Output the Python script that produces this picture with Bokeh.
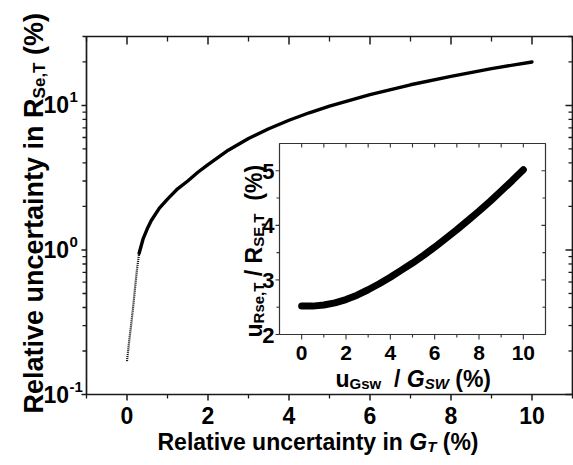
import math
from bokeh.plotting import figure
from bokeh.models import Range1d, LinearScale, Label, LabelSet, ColumnDataSource
from bokeh.embed import file_html
from bokeh.resources import INLINE
from bokeh.core.properties import value

# ---------------- data ----------------
main_x = [0.0, 0.05, 0.1, 0.15, 0.2, 0.25, 0.3, 0.4, 0.5, 0.6, 0.8, 1.0, 1.25, 1.5,
          1.75, 2.0, 2.5, 3.0, 3.5, 4.0, 4.5, 5.0, 6.0, 7.0, 8.0, 9.0, 10.0]
main_y = [0.17, 0.23, 0.30, 0.40, 0.55, 0.75, 0.95, 1.2, 1.4, 1.6, 1.95, 2.25, 2.65, 3.0,
          3.45, 3.9, 4.9, 5.9, 6.9, 7.9, 8.9, 9.9, 11.9, 13.9, 15.9, 18.0, 20.0]
inset_x = [0, 0.5, 1, 1.5, 2, 2.5, 3, 3.5, 4, 4.5, 5, 5.5, 6, 6.5, 7, 7.5, 8, 8.5, 9, 9.5, 10]
inset_y = [2.52, 2.52, 2.54, 2.58, 2.64, 2.72, 2.82, 2.93, 3.05, 3.18, 3.31, 3.45, 3.60,
           3.76, 3.92, 4.09, 4.26, 4.44, 4.63, 4.82, 5.02]
main_xmajor = [0, 2, 4, 6, 8, 10]
main_xminor = [-1, 1, 3, 5, 7, 9, 11]
main_ymajor = [0.1, 1, 10]
main_yexp = ["-1", "0", "1"]
main_yminor = [0.2, 0.3, 0.4, 0.5, 0.6, 0.7, 0.8, 0.9, 2, 3, 4, 5, 6, 7, 8, 9, 20, 30]
inset_xticks = [0, 2, 4, 6, 8, 10]
inset_xminor = [1, 3, 5, 7, 9]
inset_yticks = [2, 3, 4, 5]
inset_yminor = [2.5, 3.5, 4.5]

FONT = "Liberation Sans"
INK = "#1a1a1a"

# ---------------- layout constants (pixels) ----------------
W, H = 573, 465
FL, FR, FT, FB = 86, 572, 36, 394          # main plot box
IL, IR, IT, IB = 279, 545, 143, 334        # inset box
X0, X1, Y0, Y1 = -1, 11, 0.1, 30           # main data ranges
IX0, IX1, IY0, IY1 = -1, 11, 2, 5.5        # inset data ranges

ux = (FR - FL) / (X1 - X0)
dec = (FB - FT) / math.log10(Y1 / Y0)
sx = (IR - IL) / (IX1 - IX0)
sy = (IB - IT) / (IY1 - IY0)

p = figure(width=W, height=H,
           x_range=Range1d(X0 - FL / ux, X1 + (W - FR) / ux),
           y_range=Range1d(Y0 / 10 ** ((H - FB) / dec), Y1 * 10 ** (FT / dec)),
           y_axis_type="log", x_axis_location=None, y_axis_location=None,
           output_backend="svg", toolbar_location=None, min_border=0)
p.grid.visible = False
p.outline_line_color = None
p.background_fill_color = "white"
p.border_fill_color = "white"
p.extra_x_ranges = {"ix": Range1d(IX0 - IL / sx, IX1 + (W - IR) / sx)}
p.extra_y_ranges = {"iy": Range1d(IY0 - (H - IB) / sy, IY1 + IT / sy)}
p.extra_y_scales = {"iy": LinearScale()}

# ---------------- main box, ticks, tick labels ----------------
p.quad(left=X0, right=X1, bottom=Y0, top=Y1, fill_color=None, line_color=INK, line_width=1.7)
mk = dict(length_units="screen", line_color=INK)
n = len
p.ray(x=main_xmajor, y=[Y0] * n(main_xmajor), length=6, angle=-math.pi / 2, line_width=1.5, **mk)
p.ray(x=main_xminor, y=[Y0] * n(main_xminor), length=4, angle=-math.pi / 2, line_width=1.3, **mk)
p.ray(x=main_xmajor, y=[Y1] * n(main_xmajor), length=8, angle=-math.pi / 2, line_width=1.5, **mk)
p.ray(x=main_xminor, y=[Y1] * n(main_xminor), length=5, angle=-math.pi / 2, line_width=1.3, **mk)
p.ray(x=[X0] * n(main_ymajor), y=main_ymajor, length=5, angle=math.pi, line_width=1.5, **mk)
p.ray(x=[X0] * n(main_yminor), y=main_yminor, length=4, angle=math.pi, line_width=1.3, **mk)
p.ray(x=[X1] * n(main_ymajor), y=main_ymajor, length=7, angle=math.pi, line_width=1.5, **mk)
p.ray(x=[X1] * n(main_yminor), y=main_yminor, length=4, angle=math.pi, line_width=1.3, **mk)

tick_font = dict(text_font=value(FONT), text_font_style="bold", text_color="black")
xsrc = ColumnDataSource(dict(x=main_xmajor, y=[Y0] * n(main_xmajor),
                             t=[str(v) for v in main_xmajor]))
p.add_layout(LabelSet(x="x", y="y", text="t", source=xsrc, y_offset=-29,
                      text_align="center", text_baseline="alphabetic",
                      text_font_size="23px", **tick_font))
ysrc = ColumnDataSource(dict(x=[X0] * n(main_ymajor), y=main_ymajor,
                             t=["10"] * n(main_ymajor), e=main_yexp))
p.add_layout(LabelSet(x="x", y="y", text="t", source=ysrc, x_offset=43 - FL, y_offset=-8,
                      text_align="left", text_baseline="alphabetic",
                      text_font_size="23px", **tick_font))
p.add_layout(LabelSet(x="x", y="y", text="e", source=ysrc, x_offset=43 - FL + 26, y_offset=3,
                      text_align="left", text_baseline="alphabetic",
                      text_font_size="15px", **tick_font))

# ---------------- main curve ----------------
n_dot = 7
p.line(main_x[:n_dot], main_y[:n_dot], line_color="black", line_width=2.2, line_dash="1 1")
p.line(main_x[n_dot - 1:], main_y[n_dot - 1:], line_color="black", line_width=3.4,
       line_cap="round", line_join="round")

# ---------------- inset ----------------
iv = dict(x_range_name="ix", y_range_name="iy")
p.quad(left=IX0, right=IX1, bottom=IY0, top=IY1, fill_color=None, line_color="#333333",
       line_width=1.2, **iv)
p.line(inset_x, inset_y, line_color="black", line_width=7, line_cap="round",
       line_join="round", **iv)

tick_kw = dict(length_units="screen", line_color="#333333", line_width=1.1, **iv)
p.ray(x=[IX0] * n(inset_yticks), y=inset_yticks, length=4, angle=math.pi, **tick_kw)
p.ray(x=[IX0] * n(inset_yminor), y=inset_yminor, length=3, angle=math.pi, **tick_kw)
p.ray(x=[IX1] * n(inset_yticks), y=inset_yticks, length=4, angle=math.pi, **tick_kw)
p.ray(x=[IX1] * n(inset_yminor), y=inset_yminor, length=3, angle=math.pi, **tick_kw)
p.ray(x=inset_xticks, y=[IY0] * n(inset_xticks), length=5, angle=-math.pi / 2, **tick_kw)
p.ray(x=inset_xminor, y=[IY0] * n(inset_xminor), length=3, angle=-math.pi / 2, **tick_kw)
p.ray(x=inset_xticks, y=[IY1] * n(inset_xticks), length=4, angle=-math.pi / 2, **tick_kw)
p.ray(x=inset_xminor, y=[IY1] * n(inset_xminor), length=4, angle=-math.pi / 2, **tick_kw)

isrc_y = ColumnDataSource(dict(x=[IX0] * n(inset_yticks), y=inset_yticks,
                               t=[str(v) for v in inset_yticks]))
p.add_layout(LabelSet(x="x", y="y", text="t", source=isrc_y, x_offset=-5, y_offset=-8,
                      text_align="right", text_baseline="alphabetic",
                      text_font_size="22px", **tick_font, **iv))
isrc_x = ColumnDataSource(dict(x=inset_xticks, y=[IY0] * n(inset_xticks),
                               t=[str(v) for v in inset_xticks]))
p.add_layout(LabelSet(x="x", y="y", text="t", source=isrc_x, y_offset=-25,
                      text_align="center", text_baseline="alphabetic",
                      text_font_size="21px", **tick_font, **iv))

# ---------------- rich-text titles ----------------
AW = {' ': 278, '(': 333, ')': 333, '%': 889, ',': 278, '/': 278, '-': 333,
      'A': 722, 'E': 667, 'G': 778, 'R': 722, 'S': 667, 'T': 611, 'W': 944,
      'a': 556, 'c': 556, 'e': 556, 'i': 278, 'l': 278, 'n': 611, 'r': 389, 's': 556,
      't': 333, 'u': 611, 'v': 556, 'w': 778, 'y': 556}

def tw(s, size):
    return sum(AW.get(c, 556) for c in s) * size / 1000.0

def rich(pieces, x, y, xo, yo, vertical=False, xr="default", yr="default"):
    pos = 0.0
    for text, size, style, shift in pieces:
        lead = len(text) - len(text.lstrip())
        start = pos + tw(text[:lead], size)
        t = text.strip()
        if vertical:
            lab = Label(x=x, y=y, x_offset=xo + shift, y_offset=yo + start, angle=math.pi / 2,
                        text=t)
        else:
            lab = Label(x=x, y=y, x_offset=xo + start, y_offset=yo - shift, text=t)
        lab.text_font = FONT
        lab.text_font_size = f"{size}px"
        lab.text_font_style = style
        lab.text_color = "black"
        lab.text_baseline = "alphabetic"
        lab.text_align = "left"
        lab.x_range_name = xr
        lab.y_range_name = yr
        p.add_layout(lab)
        pos += tw(text, size)

# main x title
rich([("Relative uncertainty in ", 23, "bold", 0), ("G", 23, "bold italic", 0),
      ("T", 15, "bold italic", 5), (" (%)", 23, "bold", 0)],
     X0, Y0, 157 - FL, -(441 - FB))
# main y title
rich([("Relative uncertainty in R", 27, "bold", 0), ("Se,T", 17, "bold", 6),
      (" (%)", 27, "bold", 0)],
     X0, Y0, 33 - FL, -(413 - FB), vertical=True)
# inset x title
rich([("u", 23, "bold", 0), ("Gsw", 15, "bold", 5), ("  / ", 23, "bold", 0),
      ("G", 23, "bold italic", 0), ("SW", 15, "bold italic", 5), (" (%)", 23, "bold", 0)],
     IX0, IY0, 335 - IL, -(378 - IB), xr="ix", yr="iy")
# inset y title
rich([("u", 23, "bold", 0), ("Rse,T", 15, "bold", 5), (" / R", 23, "bold", 0),
      ("SE,T", 15, "bold", 5), ("  (%)", 23, "bold", 0)],
     IX0, IY0, 253 - IL, -(337 - IB), vertical=True, xr="ix", yr="iy")

open("out.html", "w").write(file_html(p, INLINE))
